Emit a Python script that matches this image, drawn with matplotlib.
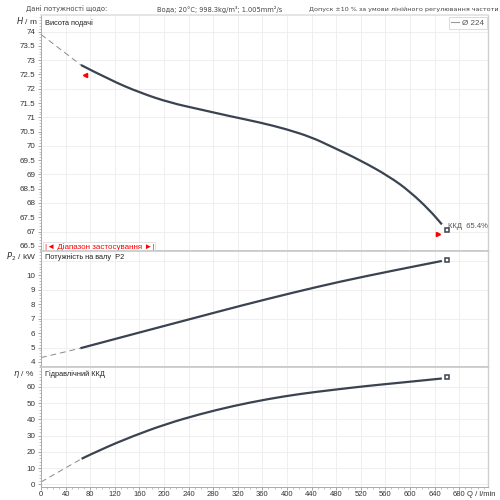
import matplotlib
matplotlib.use("Agg")
import matplotlib.pyplot as plt
from matplotlib.lines import Line2D
from matplotlib.patches import PathPatch
from matplotlib.path import Path
from matplotlib.ticker import MultipleLocator

plt.rcParams["font.family"] = ["Liberation Sans", "DejaVu Sans"]

# --- data ---
q_head = [65, 112, 161, 210, 258, 307, 356, 400, 440, 470, 519, 567, 600, 632, 652]
head = [72.83, 72.31, 71.86, 71.51, 71.28, 71.04, 70.82, 70.58, 70.30, 70.0,
        69.5, 68.92, 68.40, 67.75, 67.25]
q_head_ext = [0, 65]
head_ext = [73.9, 72.83]

q_power = [64, 161, 250, 330, 410, 486, 570, 652]
power = [4.95, 6.05, 7.05, 7.95, 8.8, 9.56, 10.3, 10.99]
q_power_ext = [0, 64]
power_ext = [4.3, 4.95]

q_eta = [66, 96, 150, 204, 258, 313, 367, 421, 475, 530, 584, 652]
eta = [15.7, 21.2, 29.8, 37.2, 43.2, 48.3, 52.4, 55.7, 58.2, 60.6, 62.6, 65.2]
q_eta_ext = [0, 66]
eta_ext = [1.4, 15.7]

q_rated = 660
head_rated, power_rated, eta_rated = 67.04, 11.08, 66.0
eta_label = "ККД  65.4%"
range_marks_q = [71.5, 645]
range_marks_h = [72.47, 66.92]

x_ticks = list(range(0, 681, 40))

CURVE = "#3a4350"
EXT = "#8a8a8a"
GRID = "#ededed"
TXT = "#333333"

fig = plt.figure(figsize=(5, 5), dpi=100)


def px_axes(top, bottom):
    return fig.add_axes([41 / 500, 1 - bottom / 500, 447 / 500, (bottom - top) / 500])


def smooth_curve(ax, xs, ys):
    # quadratic bezier through the read points, the points act as control points
    verts = [(xs[0], ys[0])]
    codes = [Path.MOVETO]
    for i in range(1, len(xs) - 1):
        verts += [(xs[i], ys[i]), ((xs[i] + xs[i + 1]) / 2, (ys[i] + ys[i + 1]) / 2)]
        codes += [Path.CURVE3, Path.CURVE3]
    verts.append((xs[-1], ys[-1]))
    codes.append(Path.LINETO)
    ax.add_patch(PathPatch(Path(verts, codes), fill=False, ec=CURVE, lw=1.6,
                           capstyle="butt", joinstyle="round", zorder=3))


ax_h = px_axes(15.3, 250.7)
ax_p = px_axes(250.7, 367.3)
ax_e = px_axes(367.3, 487.0)

for ax in (ax_h, ax_p, ax_e):
    ax.set_xlim(0, 727)
    ax.set_xticks(x_ticks)
    ax.xaxis.set_minor_locator(MultipleLocator(10))
    ax.grid(True, which="major", color=GRID, lw=0.6)
    ax.set_axisbelow(True)
    ax.tick_params(axis="both", which="major", length=2.5, width=0.6,
                   color="#999999", labelsize=5.8, labelcolor=TXT, pad=1.5)
    ax.tick_params(axis="both", which="minor", length=1.3, width=0.5, color="#aaaaaa")
    ax.spines["left"].set_color("#aaaaaa")
    ax.spines["left"].set_linewidth(0.7)
    ax.spines["right"].set_color("#d0d0d0")
    ax.spines["right"].set_linewidth(1.0)
    ax.spines["top"].set_color("#c8c8c8")
    ax.spines["top"].set_linewidth(1.2)
    ax.spines["bottom"].set_color("#c8c8c8")
    ax.spines["bottom"].set_linewidth(1.2)

ax_h.tick_params(axis="x", labelbottom=False, length=0, which="both")
ax_p.tick_params(axis="x", labelbottom=False, length=0, which="both")
ax_h.spines["top"].set_color("#e0e0e0")
ax_e.spines["bottom"].set_color("#aaaaaa")
ax_e.spines["bottom"].set_linewidth(0.7)
ax_e.tick_params(axis="x", which="major", length=2, labelsize=5.5, pad=0.8)
ax_e.tick_params(axis="x", which="minor", length=1.2)

# --- head ---
ax_h.set_ylim(66.33, 74.57)
ax_h.set_yticks([66.5 + 0.5 * i for i in range(16)])
ax_h.set_yticklabels([f"{66.5 + 0.5 * i:g}" for i in range(16)])
ax_h.yaxis.set_minor_locator(MultipleLocator(0.1))
ax_h.grid(False, axis="y")
for v in range(67, 75):
    ax_h.axhline(v, color=GRID, lw=0.6, zorder=0)
ax_h.plot(q_head_ext, head_ext, color=EXT, lw=0.7, dashes=(6, 4))
smooth_curve(ax_h, q_head, head)
ax_h.plot(q_rated, head_rated, marker="s", ms=3.2, mfc="white", mec=CURVE, mew=1.1)
ax_h.text(q_rated + 2, head_rated + 0.15, eta_label, fontsize=5.5, color="#555555",
          va="center", ha="left")
ax_h.plot(range_marks_q[0], range_marks_h[0], marker="<", ms=3, color="red", ls="none")
ax_h.plot(range_marks_q[1], range_marks_h[1], marker=">", ms=3, color="red", ls="none")
ax_h.text(6, 66.44, "|◄ Діапазон застосування ►|", fontsize=5.8, color="red",
          va="center", ha="left",
          bbox=dict(boxstyle="square,pad=0.15", fc="white", ec="#dddddd", lw=0.6))
leg = ax_h.legend(handles=[Line2D([], [], color="#999999", lw=0.8)], labels=["Ø 224"],
                  loc="upper right", fontsize=5.8, handlelength=1.0, handletextpad=0.4,
                  borderpad=0.3, borderaxespad=0.15, fancybox=False, frameon=True)
leg.get_frame().set_edgecolor("#cccccc")
leg.get_frame().set_linewidth(0.6)
for t in leg.get_texts():
    t.set_color("#555555")
ax_h.text(0.01, 0.985, "Висота подачі", transform=ax_h.transAxes, fontsize=5.3,
          color="#222222", va="top", ha="left")

# --- power ---
ax_p.set_ylim(3.63, 11.7)
ax_p.set_yticks(range(4, 11))
ax_p.yaxis.set_minor_locator(MultipleLocator(0.2))
ax_p.grid(False, axis="y")
for v in (5, 7, 9, 11):
    ax_p.axhline(v, color=GRID, lw=0.6, zorder=0)
ax_p.plot(q_power_ext, power_ext, color=EXT, lw=0.7, dashes=(6, 4))
smooth_curve(ax_p, q_power, power)
ax_p.plot(q_rated, power_rated, marker="s", ms=3.2, mfc="white", mec=CURVE, mew=1.1)
ax_p.text(0.01, 0.98, "Потужність на валу  P2", transform=ax_p.transAxes, fontsize=5.3,
          color="#222222", va="top", ha="left")

# --- efficiency ---
ax_e.set_ylim(-1.7, 72.1)
ax_e.set_yticks(range(0, 61, 10))
ax_e.yaxis.set_minor_locator(MultipleLocator(2))
ax_e.plot(q_eta_ext, eta_ext, color=EXT, lw=0.7, dashes=(6, 4))
smooth_curve(ax_e, q_eta, eta)
ax_e.plot(q_rated, eta_rated, marker="s", ms=3.2, mfc="white", mec=CURVE, mew=1.1)
ax_e.text(0.01, 0.98, "Гідравлічний ККД", transform=ax_e.transAxes, fontsize=5.3,
          color="#222222", va="top", ha="left")

# --- axis titles and header ---
fig.text(38 / 500, 1 - 21 / 500, r"$H$ / m", fontsize=6, color=TXT, ha="right", va="center")
fig.text(36 / 500, 1 - 257 / 500, r"$P_2$ / kW", fontsize=6, color=TXT, ha="right", va="center")
fig.text(34 / 500, 1 - 374 / 500, r"$\eta$ / %", fontsize=6, color=TXT, ha="right", va="center")
fig.text(467 / 500, 1 - 495 / 500, "Q / l/min", fontsize=5.5, color=TXT, ha="left", va="center")

hdr = dict(fontsize=4.75, color="#444444", va="center", family="DejaVu Sans")
fig.text(26 / 500, 1 - 9.5 / 500, "Дані потужності щодо:", **hdr)
fig.text(157 / 500, 1 - 9.5 / 500, "Вода; 20°C; 998.3kg/m³; 1.005mm²/s", **hdr)
fig.text(0.998, 1 - 9.5 / 500, "Допуск ±10 % за умови лінійного регулювання частоти",
         ha="right", **dict(hdr, fontsize=4.6))

fig.savefig("out.png", dpi=100, facecolor="white")
